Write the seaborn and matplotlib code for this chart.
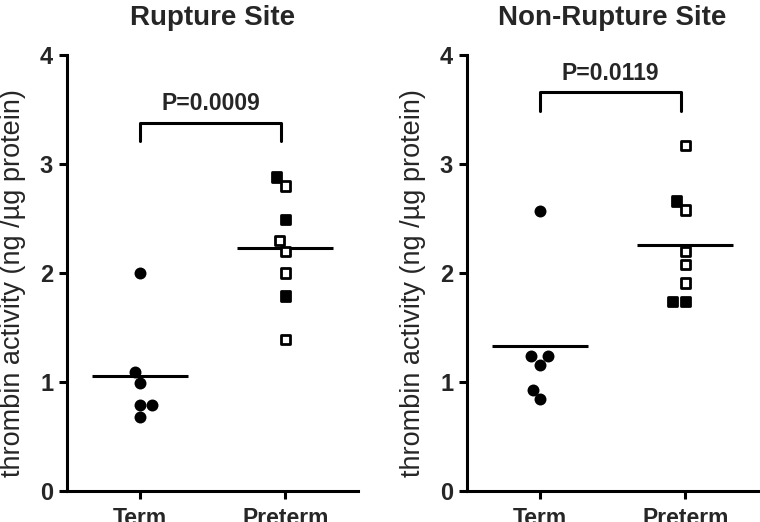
import numpy as np
import pandas as pd
import matplotlib
matplotlib.use("Agg")
import matplotlib.pyplot as plt
import seaborn as sns

# ── Data (thrombin activity, ng/µg protein) ─────────────────────────────────
groups = ["Term", "Preterm"]

rupture_term = [2.00, 1.09, 0.99, 0.79, 0.79, 0.68]
rupture_preterm = [2.88, 2.80, 2.49, 2.30, 2.20, 2.00, 1.79, 1.39]
rupture_preterm_fill = ["filled", "open", "filled", "open", "open", "open", "filled", "open"]

nonrupture_term = [2.57, 1.24, 1.24, 1.16, 0.93, 0.84]
nonrupture_preterm = [3.17, 2.66, 2.58, 2.20, 2.08, 1.91, 1.74, 1.74]
nonrupture_preterm_fill = ["open", "filled", "open", "open", "open", "open", "filled", "filled"]

titles = ["Rupture Site", "Non-Rupture Site"]
p_labels = ["P=0.0009", "P=0.0119"]
bracket_top = [3.38, 3.66]
bracket_drop = 0.17

ylabel = "thrombin activity (ng /µg protein)"

# ── Style ───────────────────────────────────────────────────────────────────
sns.set_theme(style="ticks")
plt.rcParams["font.family"] = ["Liberation Sans", "DejaVu Sans"]
LW = 2.2


def draw_panel(ax, term, preterm, fill, title, p_text, top):
    term_df = pd.DataFrame({"group": "Term", "value": term})
    pre_df = pd.DataFrame({"group": "Preterm", "value": preterm, "fill": fill})

    sns.swarmplot(data=term_df, x="group", y="value", order=groups,
                  color="black", marker="o", size=8.6, ax=ax)
    sns.swarmplot(data=pre_df, x="group", y="value", order=groups,
                  hue="fill", palette={"filled": "black", "open": "white"},
                  marker="s", size=6.8, edgecolor="black", linewidth=2.0,
                  legend=False, ax=ax)

    # group means
    for i, vals in enumerate([term, preterm]):
        ax.hlines(np.mean(vals), i - 0.33, i + 0.33, color="black", lw=LW, zorder=1)

    # significance bracket
    ax.plot([0, 0, 0.97, 0.97], [top - bracket_drop, top, top, top - bracket_drop],
            color="black", lw=LW, clip_on=False)
    ax.text(0.485, top + 0.07, p_text, ha="center", va="bottom",
            fontsize=16.5, fontweight="bold")

    ax.set_xlim(-0.5, 1.5)
    ax.set_ylim(0, 4)
    ax.set_yticks([0, 1, 2, 3, 4])
    ax.set_xlabel("")
    ax.set_ylabel(ylabel, fontsize=19.5)
    ax.yaxis.set_label_coords(-0.142, 0.477)
    ax.set_title(title, fontsize=20, fontweight="bold", pad=22)

    for side in ["top", "right"]:
        ax.spines[side].set_visible(False)
    for side in ["left", "bottom"]:
        ax.spines[side].set_linewidth(LW)
        ax.spines[side].set_color("black")
    ax.tick_params(axis="both", length=6, width=LW, color="black", pad=4)
    ax.tick_params(axis="x", pad=5.5)
    for lbl in ax.get_xticklabels():
        lbl.set_fontsize(16.5)
        lbl.set_fontweight("bold")
    for lbl in ax.get_yticklabels():
        lbl.set_fontsize(17)
        lbl.set_fontweight("bold")


fig = plt.figure(figsize=(7.6, 5.22), dpi=100)
ax1 = fig.add_axes([0.0882, 0.0594, 0.383, 0.835])
ax2 = fig.add_axes([0.6145, 0.0594, 0.383, 0.835])

draw_panel(ax1, rupture_term, rupture_preterm, rupture_preterm_fill,
           titles[0], p_labels[0], bracket_top[0])
draw_panel(ax2, nonrupture_term, nonrupture_preterm, nonrupture_preterm_fill,
           titles[1], p_labels[1], bracket_top[1])

fig.savefig("out.png", dpi=100)
